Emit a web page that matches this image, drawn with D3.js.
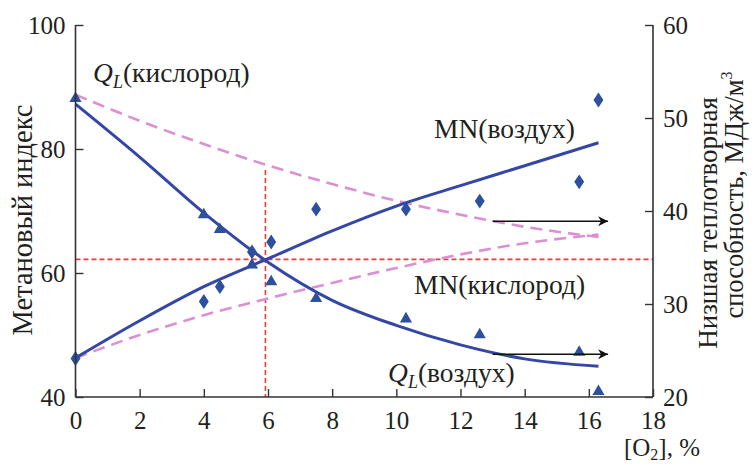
<!DOCTYPE html>
<html><head><meta charset="utf-8">
<script src="https://cdn.jsdelivr.net/npm/d3@7"></script>
<style>body{margin:0;background:#fff}svg{display:block}text{font-family:'Liberation Serif','DejaVu Serif','Times New Roman',Times,serif;fill:#231f20}</style>
</head><body><svg id="c" width="753" height="465"></svg>
<script>
// ---- data ----
const xTicks = [0,2,4,6,8,10,12,14,16,18];
const leftTicks = [40,60,80,100];
const rightTicks = [20,30,40,50,60];
// measured points (air)
const pointsX = [0,4,4.5,5.5,6.1,7.5,10.3,12.6,15.7,16.3];
const mnAirPts = [46.2,55.4,57.8,63.4,65.0,70.3,70.3,71.6,74.7,87.9];
const qlAirPts = [52.1,39.6,38.0,34.2,32.4,30.6,28.4,26.7,24.8,20.6];
// fitted / calculated curves
const curveX = [0,2,4,6,8,10,12,14,16.3];
const mnAirCurve = [46.3,52.3,57.8,62.3,66.8,70.8,74.1,77.3,81.0];
const qlAirCurve = [51.5,45.8,39.8,34.5,30.4,27.7,25.6,24.1,23.3];
const mnOxCurve = [46.3,50.0,53.2,55.9,58.4,60.8,63.0,64.8,66.2];
const qlOxCurve = [52.5,49.7,47.2,44.9,42.9,41.1,39.6,38.3,37.2];
// reference point (intersection)
const refX = 5.92, refMN = 62.2, refQLtop = 44.4;
// arrows pointing to right axis
const arrowX = [13, 16.6];
const arrowQL = [38.9, 24.6];

const FONT = "'Liberation Serif','DejaVu Serif','Times New Roman',Times,serif";
const LF = 27.5;
const svg = d3.select("#c");
const x = d3.scaleLinear().domain([0,18]).range([75.5,653]);
const yL = d3.scaleLinear().domain([40,100]).range([397,25]);
const yR = d3.scaleLinear().domain([20,60]).range([397,25]);

const blue = "#3446a6", pink = "#dc8fd3", red = "#ee3b3b", mark = "#2c4f9e";

// red reference dashed lines
svg.append("line").attr("x1",x(0)).attr("x2",x(18)).attr("y1",yL(refMN)).attr("y2",yL(refMN))
  .attr("stroke",red).attr("stroke-width",1.6).attr("stroke-dasharray","5,3");
svg.append("line").attr("x1",x(refX)).attr("x2",x(refX)).attr("y1",yR(refQLtop)).attr("y2",yL(40))
  .attr("stroke",red).attr("stroke-width",1.6).attr("stroke-dasharray","5,3");

const lineL = d3.line().x((d,i)=>x(curveX[i])).y(d=>yL(d)).curve(d3.curveMonotoneX);
const lineR = d3.line().x((d,i)=>x(curveX[i])).y(d=>yR(d)).curve(d3.curveMonotoneX);

svg.append("path").attr("d",lineL(mnOxCurve)).attr("fill","none").attr("stroke",pink).attr("stroke-width",2.6).attr("stroke-dasharray","12,7");
svg.append("path").attr("d",lineR(qlOxCurve)).attr("fill","none").attr("stroke",pink).attr("stroke-width",2.6).attr("stroke-dasharray","12,7");
svg.append("path").attr("d",lineL(mnAirCurve)).attr("fill","none").attr("stroke",blue).attr("stroke-width",3);
svg.append("path").attr("d",lineR(qlAirCurve)).attr("fill","none").attr("stroke",blue).attr("stroke-width",3);

// markers
svg.append("g").selectAll("path").data(mnAirPts).join("path")
  .attr("d",d3.symbol().type(d3.symbolDiamond).size(64))
  .attr("transform",(d,i)=>`translate(${x(pointsX[i])},${yL(d)}) scale(1.15,1)`)
  .attr("fill",mark);
svg.append("g").selectAll("path").data(qlAirPts).join("path")
  .attr("d",d3.symbol().type(d3.symbolTriangle).size(64))
  .attr("transform",(d,i)=>`translate(${x(pointsX[i])},${yR(d)})`)
  .attr("fill",mark);

// arrows
const defs = svg.append("defs");
defs.append("marker").attr("id","ah").attr("viewBox","0 0 10 10").attr("refX",10).attr("refY",5)
  .attr("markerWidth",14).attr("markerHeight",10).attr("markerUnits","userSpaceOnUse").attr("orient","auto")
  .append("path").attr("d","M0,0 L10,5 L0,10 L3,5 Z").attr("fill","#111");
arrowQL.forEach(v=>{
  svg.append("line").attr("x1",x(arrowX[0])).attr("x2",x(arrowX[1])).attr("y1",yR(v)).attr("y2",yR(v))
    .attr("stroke","#111").attr("stroke-width",1.4).attr("marker-end","url(#ah)");
});

// axes
const axC = "#333";
const gx = svg.append("g").attr("transform","translate(0,397)").call(d3.axisBottom(x).tickValues(xTicks).tickSize(-8).tickPadding(11));
const gl = svg.append("g").attr("transform","translate(75.5,0)").call(d3.axisLeft(yL).tickValues(leftTicks).tickSize(-8).tickPadding(10));
const gr = svg.append("g").attr("transform","translate(653,0)").call(d3.axisRight(yR).tickValues(rightTicks).tickSize(-8).tickPadding(10));
[gx,gl,gr].forEach(g=>{
  g.attr("font-family",FONT).attr("font-size",25);
  g.select(".domain").attr("stroke",axC).attr("stroke-width",1.6);
  g.selectAll(".tick line").attr("stroke",axC).attr("stroke-width",1.4);
  g.selectAll("text").attr("font-family",FONT).attr("font-size",25).attr("fill","#231f20");
});
gx.selectAll("text").attr("dy","0.85em");
gx.select(".domain").attr("d","M75.5,0H653");
gl.select(".domain").attr("d","M0,397V25");
gr.select(".domain").attr("d","M0,397V25");

// axis titles
svg.append("text").attr("transform","translate(32,220) rotate(-90)").attr("text-anchor","middle")
  .attr("font-family",FONT).attr("font-size",28.5).text("Метановый индекс");
svg.append("text").attr("transform","translate(717,223) rotate(-90)").attr("text-anchor","middle")
  .attr("font-family",FONT).attr("font-size",27).text("Низшая теплотворная");
const t2 = svg.append("text").attr("transform","translate(743,195) rotate(-90)").attr("text-anchor","middle")
  .attr("font-family",FONT).attr("font-size",26.5);
t2.append("tspan").text("способность, МДж/м");
t2.append("tspan").attr("font-size",16).attr("dy",-11).text("3");
const xt = svg.append("text").attr("x",700).attr("y",456).attr("text-anchor","end").attr("font-family",FONT).attr("font-size",25);
xt.append("tspan").text("[O");
xt.append("tspan").attr("font-size",16).attr("dy",4).text("2");
xt.append("tspan").attr("dy",-4).text("], %");

// curve labels
function qLabel(px,py,word){
  const t = svg.append("text").attr("x",px).attr("y",py).attr("font-family",FONT).attr("font-size",LF);
  t.append("tspan").attr("font-style","italic").text("Q");
  t.append("tspan").attr("font-style","italic").attr("font-size",18).attr("dy",6).text("L");
  t.append("tspan").attr("dy",-6).text("(" + word + ")");
}
qLabel(93,82,"кислород");
qLabel(388,382,"воздух");
svg.append("text").attr("x",434).attr("y",138).attr("font-family",FONT).attr("font-size",LF).text("MN(воздух)");
svg.append("text").attr("x",414).attr("y",294).attr("font-family",FONT).attr("font-size",LF).text("MN(кислород)");
</script></body></html>
